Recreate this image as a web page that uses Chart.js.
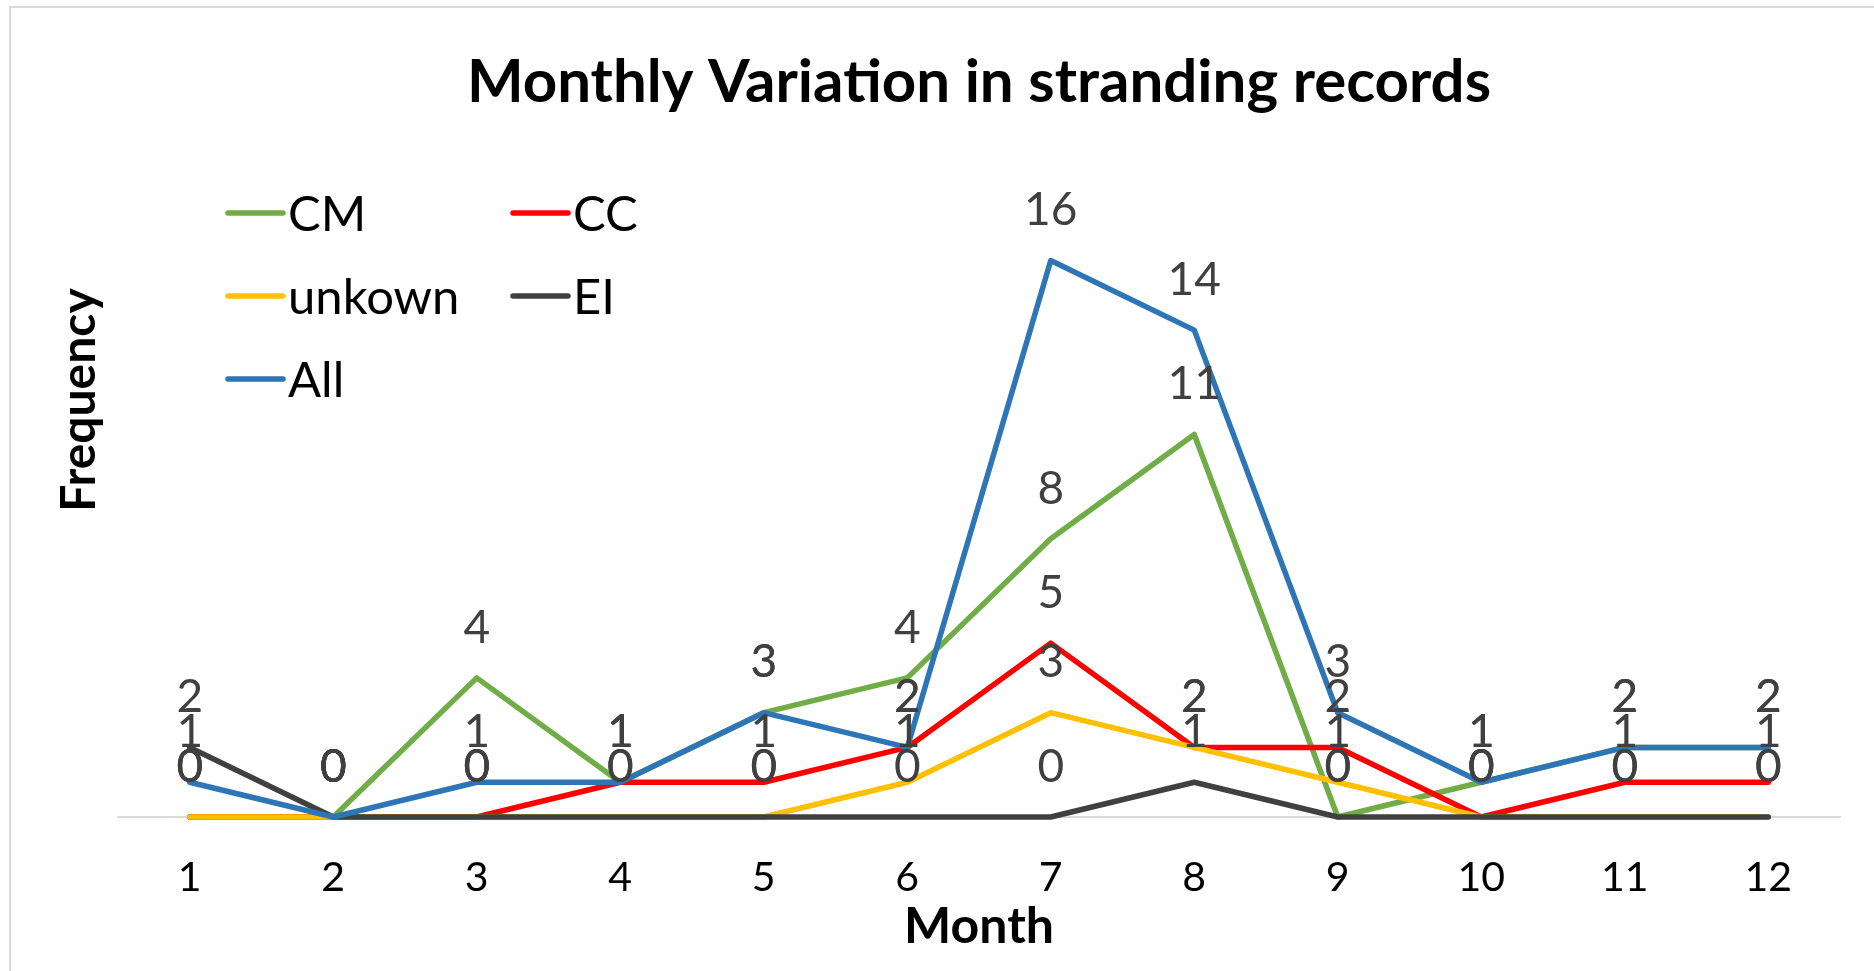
<!DOCTYPE html>
<html>
<head>
<meta charset="utf-8">
<title>Monthly Variation in stranding records</title>
<script src="https://cdn.jsdelivr.net/npm/chart.js@4/dist/chart.umd.min.js"></script>
<style>
    html, body { margin: 0; padding: 0; background: #fff; overflow: hidden; }
    #frame {
        position: absolute; left: 9px; top: 6px;
        width: 1900px; height: 1000px;
        border: 2px solid #d9d9d9;
    }
    #chart { position: absolute; left: 0; top: 0; }
</style>
</head>
<body>
<div id="frame"></div>
<canvas id="chart" width="1874" height="971"></canvas>
<script>
// chart data
var months = ["1", "2", "3", "4", "5", "6", "7", "8", "9", "10", "11", "12"];
var cm      = [0, 0, 4, 1, 3, 4, 8, 11, 0, 1, 2, 2];
var cc      = [0, 0, 0, 1, 1, 2, 5, 2, 2, 0, 1, 1];
var unknown = [0, 0, 0, 0, 0, 1, 3, 2, 1, 0, 0, 0];
var ei      = [2, 0, 0, 0, 0, 0, 0, 1, 0, 0, 0, 0];
var all     = [1, 0, 1, 1, 3, 2, 16, 14, 3, 1, 2, 2];

var FONT = "Lato, 'Open Sans', sans-serif";

function series(label, data, color, order) {
    return {
        label: label,
        data: data,
        borderColor: color,
        backgroundColor: color,
        borderWidth: 5.5,
        pointRadius: 0,
        tension: 0,
        borderCapStyle: "round",
        borderJoinStyle: "round",
        clip: false,
        order: order,
    };
}

// value labels above every point (drawn on top of all lines)
var valueLabels = {
    id: "valueLabels",
    afterDatasetsDraw: function (chart) {
        var ctx = chart.ctx;
        ctx.save();
        ctx.font = "46px " + FONT;
        ctx.fillStyle = "#404040";
        ctx.textAlign = "center";
        ctx.textBaseline = "middle";
        chart.data.datasets.forEach(function (ds, i) {
            var meta = chart.getDatasetMeta(i);
            meta.data.forEach(function (pt, j) {
                ctx.fillText(String(ds.data[j]), pt.x, pt.y - 50);
            });
        });
        ctx.restore();
    },
};

// legend inside the plot, two columns like the original
var insideLegend = {
    id: "insideLegend",
    afterDraw: function (chart) {
        var ctx = chart.ctx;
        var colX = [228, 513];
        var rowY = [213, 296, 379];
        ctx.save();
        ctx.font = "49px " + FONT;
        ctx.textBaseline = "middle";
        ctx.lineCap = "round";
        chart.data.datasets.forEach(function (ds, i) {
            var x = colX[i % 2];
            var y = rowY[Math.floor(i / 2)];
            ctx.strokeStyle = ds.borderColor;
            ctx.lineWidth = 5.5;
            ctx.beginPath();
            ctx.moveTo(x, y);
            ctx.lineTo(x + 55, y);
            ctx.stroke();
            ctx.fillStyle = "#000";
            ctx.fillText(ds.label, x + 60, y + 2);
        });
        ctx.restore();
    },
};

// rotated y axis title
var yTitle = {
    id: "yTitle",
    afterDraw: function (chart) {
        var ctx = chart.ctx;
        ctx.save();
        ctx.translate(80, 400);
        ctx.rotate(-Math.PI / 2);
        ctx.font = "bold 48px " + FONT;
        ctx.fillStyle = "#000";
        ctx.textAlign = "center";
        ctx.textBaseline = "middle";
        ctx.fillText("Frequency", 0, 0);
        ctx.restore();
    },
};

new Chart(document.getElementById("chart"), {
    type: "line",
    data: {
        labels: months,
        datasets: [
            series("CM", cm, "#70ad47", 5),
            series("CC", cc, "#ff0000", 4),
            series("unkown", unknown, "#ffc000", 3),
            series("EI", ei, "#404040", 2),
            series("All", all, "#2e75b6", 1),
        ],
    },
    options: {
        responsive: false,
        animation: false,
        layout: { padding: { left: 118, right: 34, top: 0, bottom: 0 } },
        plugins: {
            legend: { display: false },
            tooltip: { enabled: false },
            title: {
                display: true,
                text: "Monthly Variation in stranding records",
                color: "#000",
                font: { family: FONT, size: 60, weight: "bold" },
                padding: { top: 47, bottom: 72 },
            },
        },
        scales: {
            x: {
                offset: true,
                grid: { display: false, drawTicks: false },
                border: { display: true, color: "#d9d9d9", width: 2 },
                ticks: {
                    color: "#000",
                    font: { family: FONT, size: 41 },
                    padding: 36,
                    maxRotation: 0,
                    autoSkip: false,
                },
                title: {
                    display: true,
                    text: "Month",
                    color: "#000",
                    font: { family: FONT, size: 50, weight: "bold" },
                    padding: { top: 0, bottom: 14 },
                },
                afterFit: function (scale) {
                    scale.height = 154;
                },
            },
            y: {
                display: false,
                min: 0,
                max: 18,
            },
        },
    },
    plugins: [valueLabels, insideLegend, yTitle],
});
</script>
</body>
</html>
